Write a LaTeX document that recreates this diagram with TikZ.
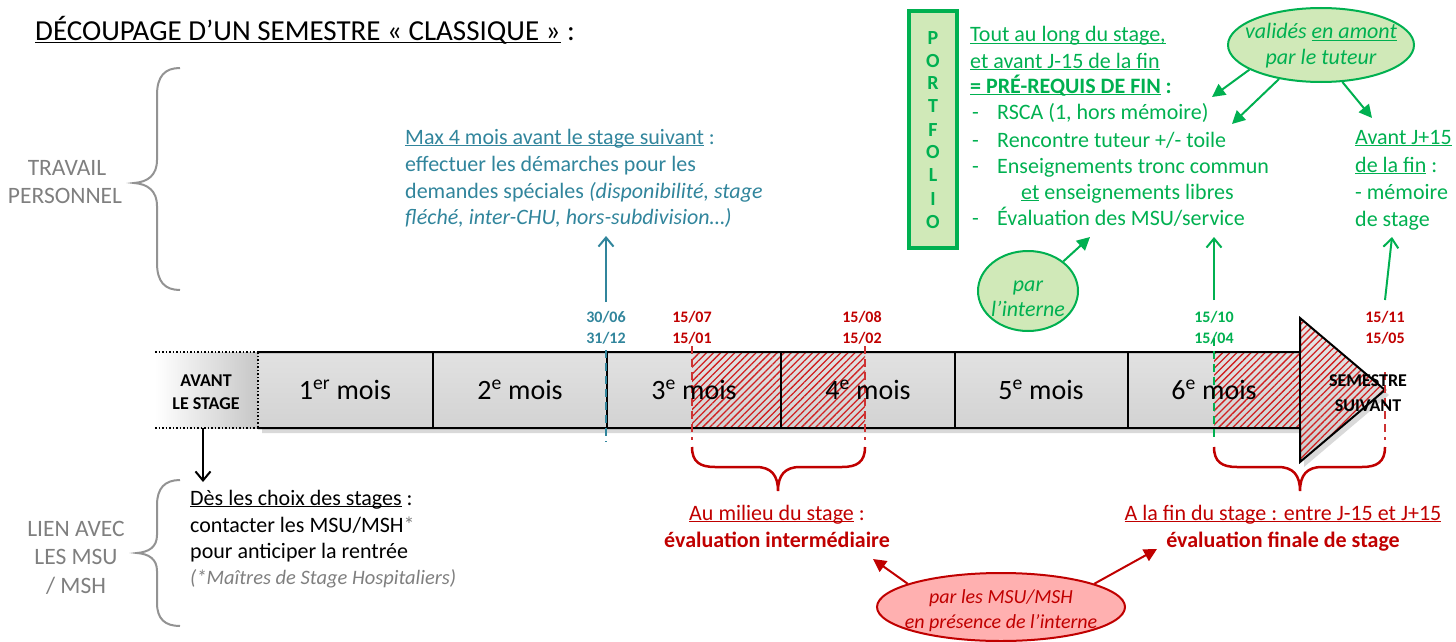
\documentclass[tikz,border=0pt]{standalone}
\usepackage{fontspec}
\setmainfont{Carlito}
\usetikzlibrary{patterns.meta,arrows.meta,shapes.geometric}
\definecolor{tealc}{HTML}{31859C}
\definecolor{grn}{HTML}{00B050}
\definecolor{dred}{HTML}{C00000}
\definecolor{lgrn}{HTML}{D0E9B8}
\definecolor{pinkf}{HTML}{FFB0B0}
\definecolor{gtxt}{HTML}{7F7F7F}
\definecolor{hatchc}{HTML}{D02020}
\newcommand\fsz[1]{\fontsize{#1}{#1}\selectfont}
\newcommand\ul[1]{\underline{\smash{#1}}}
\begin{document}
\begin{tikzpicture}[x=1pt,y=-1pt,
  tl/.style={anchor=base west, inner sep=0pt, font=\fsz{22}},
  tc/.style={anchor=base, inner sep=0pt, font=\fsz{22}},
  datel/.style={anchor=base, inner sep=0pt, font=\fsz{16}\bfseries},
  monthl/.style={anchor=base, inner sep=0pt, font=\fsz{28}},
  capl/.style={anchor=base, inner sep=0pt, font=\fsz{18}\bfseries},
  sidel/.style={anchor=base, inner sep=0pt, font=\fsz{23.5}, gtxt},
  barb/.style={-{Straight Barb[length=9pt,width=15pt]}},
  tri/.style={-{Triangle[length=13pt,width=13pt]}},
  hatch/.style={pattern={Lines[angle=45,distance=5pt,line width=1.3pt]}, pattern color=hatchc},
  gbrace/.style={draw=gray!85, line width=2pt},
  rbrace/.style={draw=dred, line width=2.5pt},
  dsh/.style={line width=1.6pt, dash pattern=on 8pt off 5pt},
  bubble/.style={ellipse, inner sep=0pt, line width=2pt}
]
\useasboundingbox (0,0) rectangle (1456,642);
% ---------- title
\node[tl, font=\fsz{29}] (title) at (35,41) {\ul{DÉCOUPAGE D’UN SEMESTRE « CLASSIQUE »} :};
% ---------- side labels & braces
\node[sidel] (tr1) at (67,175) {TRAVAIL};
\node[sidel] (tr2) at (65,203) {PERSONNEL};
\draw[gbrace] (180,68) .. controls (165,68) and (157,76) .. (157,95) -- (157,160)
  .. controls (157,175) and (148,182) .. (134,183) .. controls (148,184) and (157,191) .. (157,206)
  -- (157,263) .. controls (157,282) and (165,290) .. (180,290);
\node[sidel] (li1) at (76,536) {LIEN AVEC};
\node[sidel] (li2) at (76,564) {LES MSU};
\node[sidel] (li3) at (76,593) {/ MSH};
\draw[gbrace] (180,480) .. controls (165,480) and (157,488) .. (157,505) -- (157,535)
  .. controls (157,547) and (149,552) .. (137,553) .. controls (149,554) and (157,559) .. (157,571)
  -- (157,603) .. controls (157,619) and (165,626) .. (180,626);
% ---------- timeline bar
\fill[black, opacity=0.15] (262,357) -- (1304,357) -- (1304,323) -- (1389,395) -- (1304,467) -- (1304,433) -- (262,433) -- cycle;
\shade[left color=white, right color=black!22] (155,352) rectangle (258,428);
\draw[line width=1.5pt, dotted] (155,352) -- (258,352);
\draw[line width=1.5pt, dotted] (155,428) -- (258,428);
\shade[top color=black!9, bottom color=black!20] (258,352) -- (1300,352) -- (1300,318) -- (1385,390) -- (1300,462) -- (1300,428) -- (258,428) -- cycle;
\fill[hatch] (692,352) rectangle (865,428);
\fill[hatch] (1214,352) -- (1300,352) -- (1300,318) -- (1385,390) -- (1300,462) -- (1300,428) -- (1214,428) -- cycle;
\draw[line width=2pt, line join=miter] (258,352) -- (1300,352) -- (1300,318) -- (1385,390) -- (1300,462) -- (1300,428) -- (258,428);
\draw[line width=1.5pt, dotted] (258,352) -- (258,428);
\foreach \xx in {433,607,781,955,1128,1300} \draw[line width=2pt] (\xx,352) -- (\xx,428);
% dashed markers
\draw[dsh, tealc] (606,350) -- (606,442);
\draw[dsh, dred!80] (692,346) -- (692,440);
\draw[dsh, dred!80] (865,346) -- (865,440);
\draw[dsh, grn] (1214,338) -- (1214,440);
\draw[dsh, dred!80] (1385,372) -- (1385,440);
% box labels
\node[capl] (av1) at (206,386) {AVANT};
\node[capl] (av2) at (206,409) {LE STAGE};
\node[monthl] (mo1) at (345,399) {1\textsuperscript{er} mois};
\node[monthl] (mo2) at (520,399) {2\textsuperscript{e} mois};
\node[monthl] (mo3) at (694,399) {3\textsuperscript{e} mois};
\node[monthl] (mo4) at (868,399) {4\textsuperscript{e} mois};
\node[monthl] (mo5) at (1041,399) {5\textsuperscript{e} mois};
\node[monthl] (mo6) at (1214,399) {6\textsuperscript{e} mois};
\node[capl] (ss1) at (1368,386) {SEMESTRE};
\node[capl] (ss2) at (1368,411) {SUIVANT};
% dates
\node[datel, tealc] (d1a) at (606,322) {30/06};
\node[datel, tealc] (d1b) at (606,343) {31/12};
\node[datel, dred] (d2a) at (692,322) {15/07};
\node[datel, dred] (d2b) at (692,343) {15/01};
\node[datel, dred] (d3a) at (862,322) {15/08};
\node[datel, dred] (d3b) at (862,343) {15/02};
\node[datel, grn] (d4a) at (1214,322) {15/10};
\node[datel, grn] (d4b) at (1214,343) {15/04};
\node[datel, dred] (d5a) at (1385,322) {15/11};
\node[datel, dred] (d5b) at (1385,343) {15/05};
% ---------- teal block
\node[tl, tealc] (m1) at (405,144) {\ul{Max 4 mois avant le stage suivant} :};
\node[tl, tealc] (m2) at (405,171) {effectuer les démarches pour les};
\node[tl, tealc] (m3) at (405,198) {demandes spéciales \textit{(disponibilité, stage}};
\node[tl, tealc] (m4) at (405,224) {\textit{fléché, inter-CHU, hors-subdivision…)}};
\coordinate (ta0) at (606,302);
\coordinate (ta1) at (606,236);
\draw[barb, tealc, line width=2pt] (ta0) -- (ta1);
% ---------- portfolio
\node[draw=grn, line width=4pt, fill=lgrn, minimum width=48, minimum height=236, inner sep=0pt] (pf) at (932.5,129.5) {};
\foreach \ch/\yy in {P/44.5,O/67.5,R/89.5,T/112.5,F/136.5,O/158.5,L/181.5,I/205.5,O/228.5}
  \node[anchor=base, inner sep=0pt, font=\fsz{20}\bfseries, grn] at (933,\yy) {\ch};
\node[tl, grn] (g1) at (970,42) {\ul{Tout au long du stage,}};
\node[tl, grn] (g2) at (970,68) {\ul{et avant J-15 de la fin}};
\node[tl, grn] (g3) at (970,93) {\textbf{\ul{= PRÉ-REQUIS DE FIN}} \textbf{:}};
\foreach \yy in {119,147,173,225} \node[tl, grn] at (972,\yy) {-};
\node[tl, grn] (g4) at (997,119) {RSCA (1, hors mémoire)};
\node[tl, grn] (g5) at (997,147) {Rencontre tuteur +/- toile};
\node[tl, grn] (g6) at (997,173) {Enseignements tronc commun};
\node[tl, grn] (g7) at (1021,199) {\ul{et} enseignements libres};
\node[tl, grn] (g8) at (997,225) {Évaluation des MSU/service};
% right green block
\node[tl, grn] (r1) at (1355,144) {\ul{Avant J+15}};
\node[tl, grn] (r2) at (1355,172) {\ul{de la fin} :};
\node[tl, grn] (r3) at (1355,199) {- mémoire};
\node[tl, grn] (r4) at (1355,226) {de stage};
% green bubbles
\node[bubble, draw=grn, fill=lgrn, minimum width=186, minimum height=74] (ev) at (1321,45) {};
\node[tc, grn, font=\fsz{22}\itshape] (ev1) at (1321,39) {validés \ul{en amont}};
\node[tc, grn, font=\fsz{22}\itshape] (ev2) at (1321,65) {par le tuteur};
\coordinate (ea1) at (1212,97);
\coordinate (ea2) at (1232,124);
\coordinate (ea3) at (1372,118);
\draw[tri, grn, line width=2pt] (ev.199) -- (ea1);
\draw[tri, grn, line width=2pt] (ev.219) -- (ea2);
\draw[tri, grn, line width=2pt] (ev.300) -- (ea3);
\node[bubble, draw=grn, fill=lgrn, minimum width=100, minimum height=80] (ei) at (1028,291) {};
\node[tc, grn, font=\fsz{22}\itshape] (ei1) at (1028,291) {par};
\node[tc, grn, font=\fsz{22}\itshape] (ei2) at (1028,316) {l’interne};
\coordinate (ia) at (1090,237);
\draw[tri, grn, line width=2pt] (ei.40) -- (ia);
\coordinate (ga0) at (1214,300);
\coordinate (ga1) at (1214,237);
\draw[barb, grn, line width=2pt] (ga0) -- (ga1);
\coordinate (gb0) at (1385,300);
\coordinate (gb1) at (1392,237);
\draw[barb, grn, line width=2pt] (gb0) -- (gb1);
% ---------- black block
\coordinate (ba0) at (203,428);
\coordinate (ba1) at (203,482);
\draw[barb, line width=2pt] (ba0) -- (ba1);
\node[tl] (b1) at (190,505) {\ul{Dès les choix des stages} :};
\node[tl] (b2) at (190,532) {contacter les MSU/MSH\textcolor{gtxt}{*}};
\node[tl] (b3) at (190,558) {pour anticiper la rentrée};
\node[tl, gtxt, font=\fsz{20.5}\itshape] (b4) at (190,584) {(*Maîtres de Stage Hospitaliers)};
% ---------- red braces & evaluations
\draw[rbrace] (692,447) .. controls (692,462) and (700,467) .. (715,467) -- (756,467)
  .. controls (771,467) and (778,475) .. (778,491) .. controls (778,475) and (785,467) .. (800,467)
  -- (842,467) .. controls (857,467) and (865,462) .. (865,447);
\draw[rbrace] (1214,447) .. controls (1214,462) and (1222,467) .. (1237,467) -- (1278,467)
  .. controls (1293,467) and (1300,475) .. (1300,491) .. controls (1300,475) and (1307,467) .. (1322,467)
  -- (1362,467) .. controls (1377,467) and (1385,462) .. (1385,447);
\node[tc, dred] (e1) at (777,520) {\ul{Au milieu du stage} :};
\node[tc, dred, font=\fsz{22}\bfseries] (e2) at (777,547) {évaluation intermédiaire};
\node[tc, dred] (f1) at (1283,520) {\ul{A la fin du stage : entre J-15 et J+15}};
\node[tc, dred, font=\fsz{22}\bfseries] (f2) at (1283,547) {évaluation finale de stage};
\node[bubble, draw=dred, fill=pinkf, minimum width=248, minimum height=68] (er) at (1001,607) {};
\node[tc, dred, font=\fsz{20}\itshape] (er1) at (1001,603) {par les MSU/MSH};
\node[tc, dred, font=\fsz{20}\itshape] (er2) at (1001,628) {en présence de l’interne};
\coordinate (ra1) at (873,559);
\coordinate (ra2) at (1157,549);
\draw[tri, dred, line width=2pt] (er.166) -- (ra1);
\draw[tri, dred, line width=2pt] (er.14) -- (ra2);
\end{tikzpicture}
\end{document}
